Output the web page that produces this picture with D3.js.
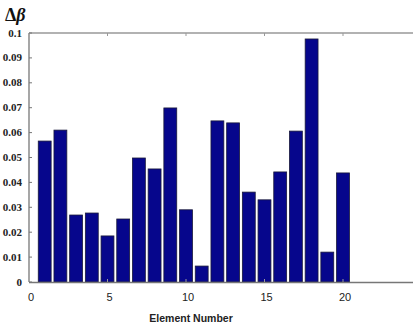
<!DOCTYPE html>
<html>
<head>
<meta charset="utf-8">
<script src="https://cdn.jsdelivr.net/npm/d3@7"></script>
<style>
  body { margin: 0; background: #fff; }
  svg { display: block; }
  .ytick text { font-family: "Liberation Serif", "DejaVu Serif", serif; font-weight: bold; font-size: 11px; fill: #222; }
  .xtick text { font-family: "Liberation Sans", Arial, sans-serif; font-size: 11px; fill: #222; }
</style>
</head>
<body>
<div id="chart"></div>
<script>
// element numbers and delta-beta values
var elements = [1, 2, 3, 4, 5, 6, 7, 8, 9, 10, 11, 12, 13, 14, 15, 16, 17, 18, 19, 20];
var deltaBeta = [0.0566, 0.0610, 0.0269, 0.0277, 0.0185, 0.0253, 0.0498, 0.0454, 0.0699, 0.0290,
                 0.0064, 0.0647, 0.0639, 0.0361, 0.0330, 0.0442, 0.0606, 0.0976, 0.0120, 0.0438];
var yTicks = [0, 0.01, 0.02, 0.03, 0.04, 0.05, 0.06, 0.07, 0.08, 0.09, 0.1];
var yTickLabels = ["0", "0.01", "0.02", "0.03", "0.04", "0.05", "0.06", "0.07", "0.08", "0.09", "0.1"];
var xTicks = [0, 5, 10, 15, 20];

var width = 413, height = 326;
var margin = {top: 33, left: 29, bottom: 44};

var svg = d3.select("#chart").append("svg")
    .attr("width", width)
    .attr("height", height);

//scales
var x = d3.scaleLinear().domain([0, 25]).range([margin.left, 421.5]);
var y = d3.scaleLinear().domain([0, 0.1]).range([282, margin.top]);
var barW = x(0.82) - x(0);

//bars
svg.selectAll("rect.bar")
    .data(deltaBeta)
    .enter().append("rect")
    .attr("class", "bar")
    .attr("x", function(d, i){ return x(elements[i]) - barW / 2; })
    .attr("y", function(d){ return y(d); })
    .attr("width", barW)
    .attr("height", function(d){ return y(0) - y(d); })
    .attr("fill", "#06068c")
    .attr("stroke", "#1a1a3a")
    .attr("stroke-width", 0.8);

//frame: left, bottom, top
svg.append("line")
    .attr("x1", x(0)).attr("x2", x(0))
    .attr("y1", y(0.1)).attr("y2", y(0))
    .attr("stroke", "#777").attr("stroke-width", 1.3);
svg.append("line")
    .attr("x1", x(0)).attr("x2", width)
    .attr("y1", y(0) + 0.5).attr("y2", y(0) + 0.5)
    .attr("stroke", "#777").attr("stroke-width", 1.6);
svg.append("line")
    .attr("x1", x(0)).attr("x2", width)
    .attr("y1", y(0.1)).attr("y2", y(0.1))
    .attr("stroke", "#999").attr("stroke-width", 1.3);

//y axis ticks and labels
var yg = svg.append("g").attr("class", "ytick");
yg.selectAll("line")
    .data(yTicks)
    .enter().append("line")
    .attr("x1", x(0)).attr("x2", x(0) + 3)
    .attr("y1", function(d){ return y(d); })
    .attr("y2", function(d){ return y(d); })
    .attr("stroke", "#777");
yg.selectAll("text")
    .data(yTicks)
    .enter().append("text")
    .attr("x", 22)
    .attr("y", function(d){ return y(d) + 3.5; })
    .style("text-anchor", "end")
    .text(function(d, i){ return yTickLabels[i]; });

//x axis ticks and labels
var xg = svg.append("g").attr("class", "xtick");
xg.selectAll("line.bot")
    .data(xTicks.slice(1))
    .enter().append("line")
    .attr("x1", function(d){ return x(d); })
    .attr("x2", function(d){ return x(d); })
    .attr("y1", y(0)).attr("y2", y(0) - 3)
    .attr("stroke", "#999");
xg.selectAll("line.top")
    .data(xTicks.slice(1))
    .enter().append("line")
    .attr("x1", function(d){ return x(d); })
    .attr("x2", function(d){ return x(d); })
    .attr("y1", y(0.1)).attr("y2", y(0.1) + 3)
    .attr("stroke", "#999");
xg.selectAll("text")
    .data(xTicks)
    .enter().append("text")
    .attr("x", function(d){ return x(d) + 2; })
    .attr("y", 301)
    .style("text-anchor", "middle")
    .text(function(d){ return d; });

//axis title
svg.append("text")
    .attr("x", 191)
    .attr("y", 322)
    .style("text-anchor", "middle")
    .style("font-family", "'Liberation Sans', Arial, sans-serif")
    .style("font-weight", "bold")
    .style("font-size", "10.5px")
    .style("fill", "#222")
    .text("Element Number");

//delta beta header
var hdr = svg.append("text")
    .attr("x", 5)
    .attr("y", 21)
    .style("font-family", "'Liberation Serif', 'DejaVu Serif', serif")
    .style("font-weight", "bold")
    .style("font-size", "18px")
    .style("fill", "#111");
hdr.append("tspan").text("Δ");
hdr.append("tspan").style("font-style", "italic").text("β");
</script>
</body>
</html>
